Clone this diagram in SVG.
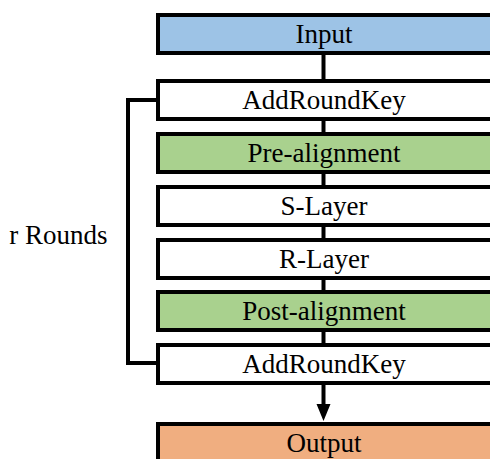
<svg xmlns="http://www.w3.org/2000/svg" width="490" height="459" viewBox="0 0 490 459">
<style>
.box{stroke:#000;stroke-width:4}
.w{fill:#fff}.b{fill:#9dc3e6}.g{fill:#a9d18e}.o{fill:#f0ae80}
text{font-family:"Liberation Serif",serif;font-size:27px;fill:#000;text-anchor:middle}
.c{stroke:#000;stroke-width:4;fill:none}
</style>
<g id="connectors">
<line class="c" x1="323.5" y1="53" x2="323.5" y2="81"/>
<line class="c" x1="323.5" y1="119" x2="323.5" y2="134"/>
<line class="c" x1="323.5" y1="172" x2="323.5" y2="187"/>
<line class="c" x1="323.5" y1="225" x2="323.5" y2="240"/>
<line class="c" x1="323.5" y1="278" x2="323.5" y2="292"/>
<line class="c" x1="323.5" y1="330" x2="323.5" y2="345"/>
<path class="c" d="M323.5,383 V404"/>
<path d="M316.5,404 L330.5,404 L323.5,421 z" fill="#000"/>
<path class="c" d="M158,100 H128 V363 H158"/>
</g>
<g id="input"><rect class="box b" x="158" y="15" width="334" height="38"/><text x="324" y="43">Input</text></g>
<g id="ark1"><rect class="box w" x="158" y="81" width="334" height="38"/><text x="324" y="109">AddRoundKey</text></g>
<g id="pre"><rect class="box g" x="158" y="134" width="334" height="38"/><text x="324" y="162">Pre-alignment</text></g>
<g id="slayer"><rect class="box w" x="158" y="187" width="334" height="38"/><text x="324" y="215">S-Layer</text></g>
<g id="rlayer"><rect class="box w" x="158" y="240" width="334" height="38"/><text x="324" y="268">R-Layer</text></g>
<g id="post"><rect class="box g" x="158" y="292" width="334" height="38"/><text x="324" y="320">Post-alignment</text></g>
<g id="ark2"><rect class="box w" x="158" y="345" width="334" height="38"/><text x="324" y="373">AddRoundKey</text></g>
<g id="output"><rect class="box o" x="158" y="424" width="334" height="38"/><text x="324" y="452">Output</text></g>
<g id="label"><text x="58.5" y="244">r Rounds</text></g>
</svg>
